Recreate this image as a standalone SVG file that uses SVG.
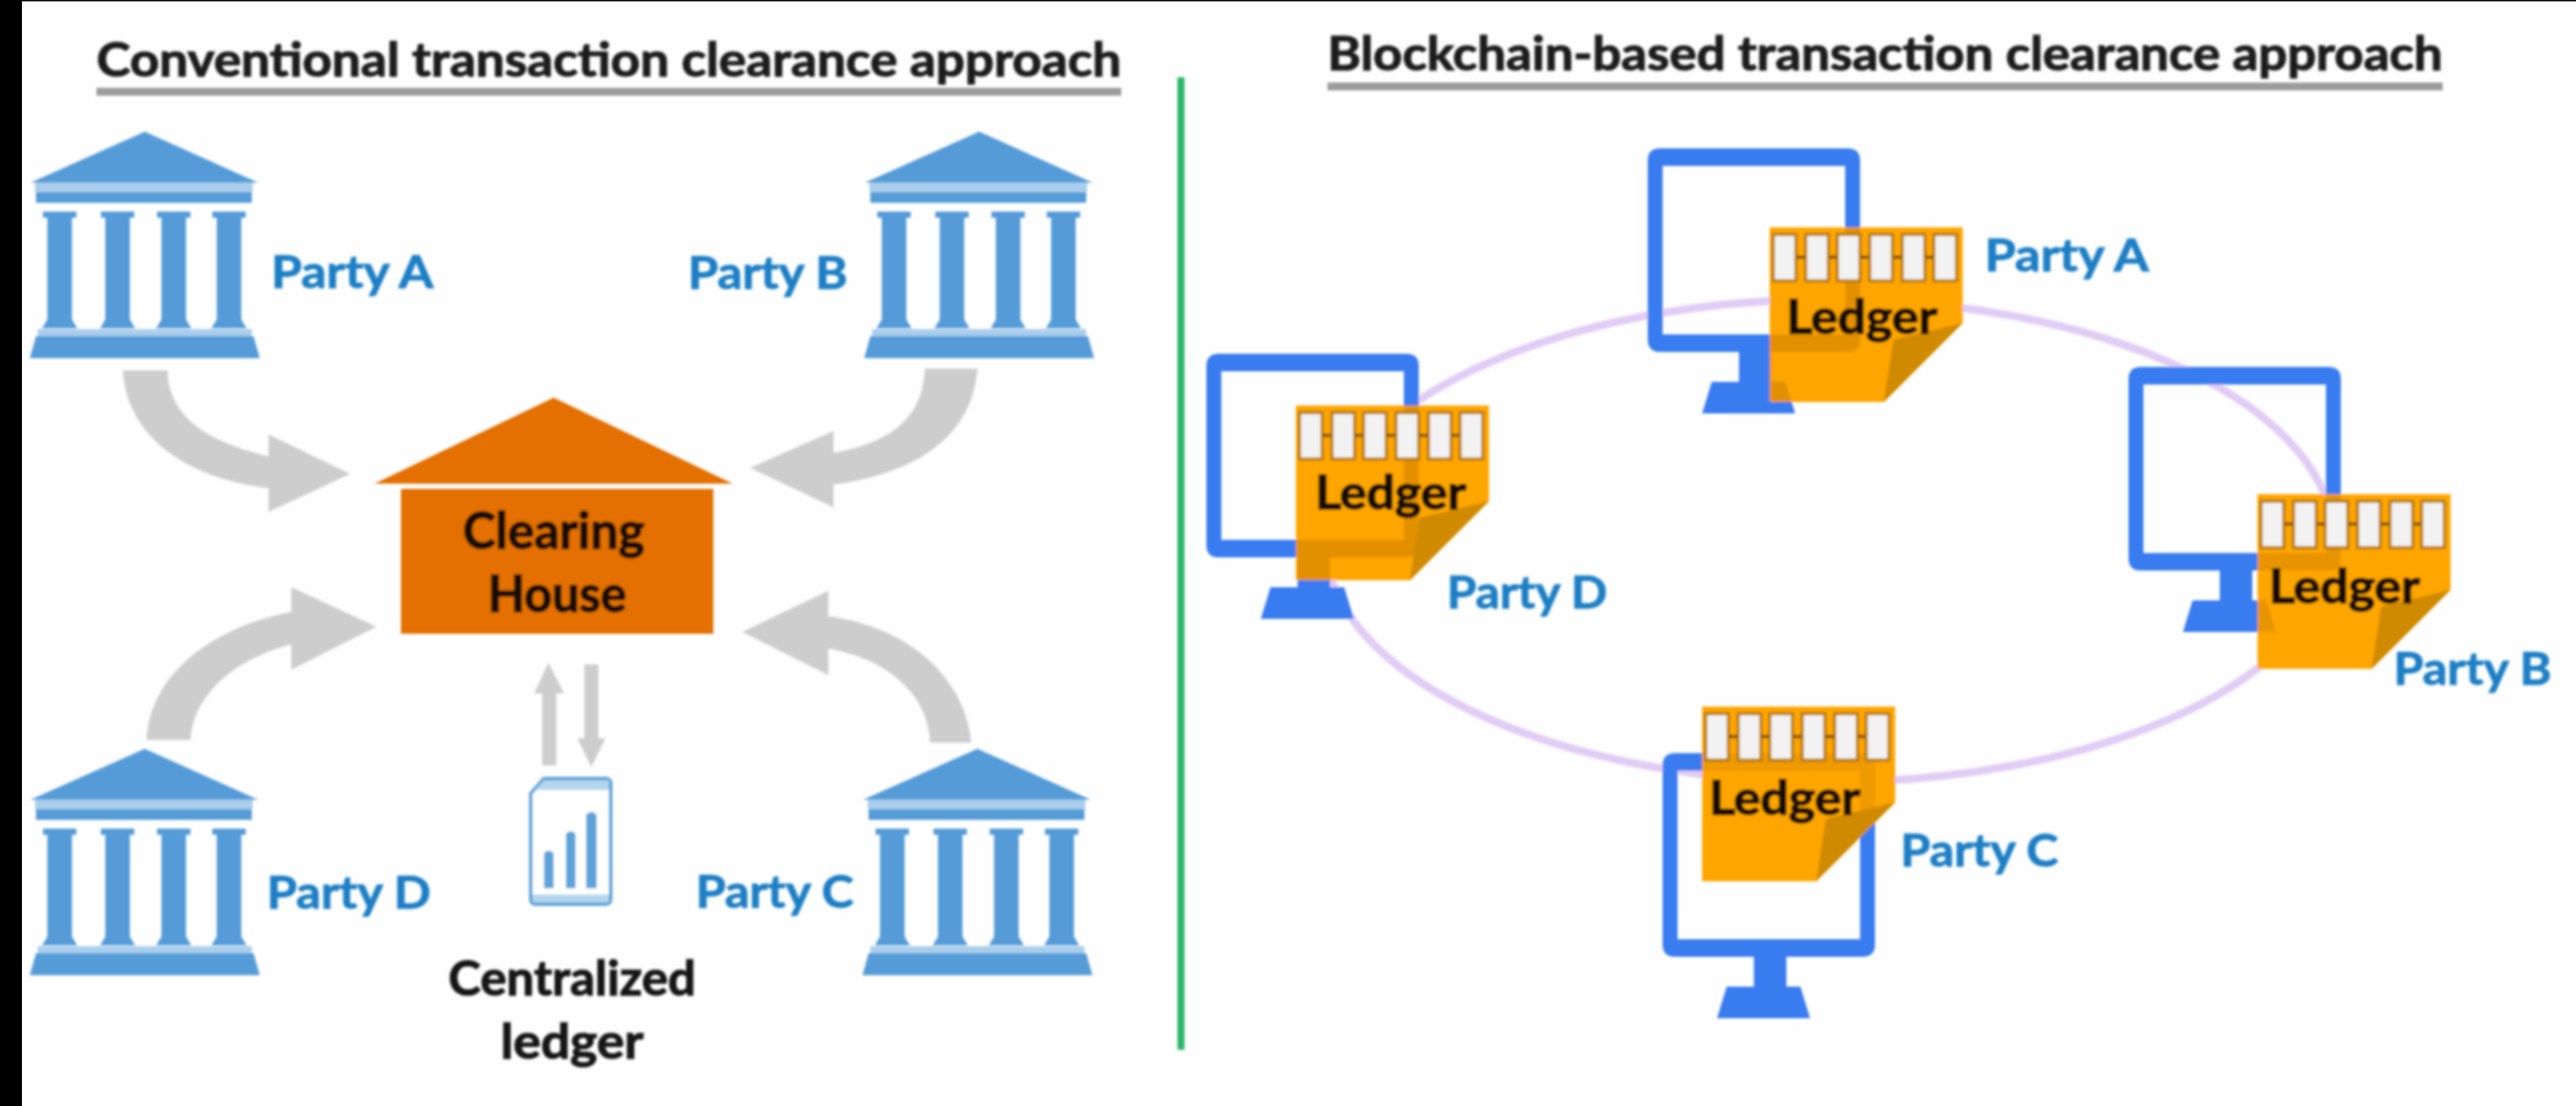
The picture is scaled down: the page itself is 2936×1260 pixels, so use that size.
<svg xmlns="http://www.w3.org/2000/svg" width="2936" height="1260" viewBox="0 0 2936 1260">
<style>
text{font-family:Lato,"Liberation Sans",Arial,sans-serif;font-weight:700}
.title{font-size:54px;fill:#1c1c1c;stroke:#1c1c1c;stroke-width:1.2px}
.party{font-size:52px;fill:#1f7fc5;stroke:#1f7fc5;stroke-width:1px}
.dark{font-size:57px;fill:#170c02;stroke:#170c02;stroke-width:1.6px}
.ink{font-size:55px;fill:#141414;stroke:#141414;stroke-width:1.2px}
.ledger{font-size:53px;fill:#170c02;stroke:#170c02;stroke-width:1.6px}
.gray{fill:#cdcdcd}
.rule{fill:#9c9c9c}
</style>
<defs>
<filter id="soft" filterUnits="userSpaceOnUse" x="0" y="0" width="2936" height="1260"><feGaussianBlur stdDeviation="1.8"/></filter>
<path id="column" d="M-19 91H19V98H14V214L20 224H-20L-14 214V98H-19Z"/>
<g id="bank">
<path fill="#559bd8" d="M0 0L129 58H-130Z"/>
<rect x="-125" y="58" width="248" height="11" fill="#a9cdeb"/>
<rect x="-124" y="69" width="246" height="12" fill="#559bd8"/>
<g fill="#559bd8">
<use href="#column" x="-97"/><use href="#column" x="-31"/><use href="#column" x="33"/><use href="#column" x="96"/>
</g>
<rect x="-122" y="225" width="244" height="8" fill="#a9cdeb"/>
<path fill="#559bd8" d="M-124 233H124L131 258H-131Z"/>
</g>
<path id="monitor" fill-rule="evenodd" d="M14 0H228Q242 0 242 14V218Q242 232 228 232H141V266H157L168 302H62L73 266H104V232H14Q0 232 0 218V14Q0 0 14 0ZM17 20V212H225V20Z"/>
<clipPath id="ledgerClip"><path d="M0 0H220V109L130 199H0Z"/></clipPath>
<path id="ledgerBody" fill="#ffa500" d="M0 0H220V109L130 199H0Z"/>
<g id="ledgerTop">
<path fill="#cf8a03" d="M220 109L141 128L130 199Z"/>
<g fill="#f2f2f2" stroke="#b87b10" stroke-width="3.5">
<rect x="4" y="8" width="26" height="53"/><rect x="41" y="8" width="26" height="53"/><rect x="77" y="8" width="26" height="53"/><rect x="114" y="8" width="26" height="53"/><rect x="151" y="8" width="26" height="53"/><rect x="187" y="8" width="26" height="53"/>
</g>
<path stroke="#5a3a00" stroke-width="3" d="M31 34H40M68 34H76M104 34H113M141 34H150M178 34H186"/>
</g>
</defs>
<rect width="2936" height="1260" fill="#fefefe"/>
<g filter="url(#soft)">
<g id="titles">
<text class="title" x="110" y="87" textLength="1168" lengthAdjust="spacingAndGlyphs">Conventional transaction clearance approach</text>
<rect class="rule" x="110" y="100" width="1168" height="9"/>
<text class="title" x="1513" y="80" textLength="1271" lengthAdjust="spacingAndGlyphs">Blockchain-based transaction clearance approach</text>
<rect class="rule" x="1513" y="94" width="1271" height="9"/>
</g>
<rect id="divider" x="1342" y="88" width="8" height="1108" fill="#2db56c"/>

<g id="connectors">
<path class="gray" d="M140 422C145 500 215 545 306 556V583L399 540L306 495V520C245 505 192 480 191 422Z"/>
<path class="gray" d="M1114 420C1108 500 1040 540 950 552V578L855 533L950 491V516C1010 505 1052 480 1054 420Z"/>
<path class="gray" d="M167 843C170 770 240 715 332 697V669L429 714L332 763V734C270 750 220 790 217 843Z"/>
<path class="gray" d="M1107 846C1100 775 1040 715 944 702V673L846 720L944 769V739C1010 750 1058 790 1060 846Z"/>
<path class="gray" d="M625 755L643 790H634V872H618V790H609Z"/>
<path class="gray" d="M674 874L690 841H682V757H666V841H658Z"/>
<ellipse cx="2085" cy="616" rx="575" ry="275" fill="none" stroke="#e0ccf4" stroke-width="9"/>
</g>

<g id="bank-party-a"><use href="#bank" transform="translate(165 150)"/><text class="party" x="309" y="328" textLength="185" lengthAdjust="spacingAndGlyphs">Party A</text></g>
<g id="bank-party-b"><use href="#bank" transform="translate(1116 150)"/><text class="party" x="784" y="329" textLength="182" lengthAdjust="spacingAndGlyphs">Party B</text></g>
<g id="bank-party-d"><use href="#bank" transform="translate(165 853)"/><text class="party" x="304" y="1035" textLength="187" lengthAdjust="spacingAndGlyphs">Party D</text></g>
<g id="bank-party-c"><use href="#bank" transform="translate(1114 853)"/><text class="party" x="793" y="1034" textLength="180" lengthAdjust="spacingAndGlyphs">Party C</text></g>

<g id="clearing-house">
<path fill="#e36f00" d="M631 453L835 551H427Z"/>
<rect x="457" y="557" width="356" height="165" fill="#e36f00"/>
<text class="dark" x="631" y="625" text-anchor="middle" textLength="207" lengthAdjust="spacingAndGlyphs">Clearing</text>
<text class="dark" x="635" y="697" text-anchor="middle" textLength="158" lengthAdjust="spacingAndGlyphs">House</text>
</g>

<g id="centralized-ledger">
<path fill="#fff" stroke="#5ba3d9" stroke-width="4" d="M620 887H690Q696 887 696 893V1024Q696 1030 690 1030H611Q605 1030 605 1024V904Z"/>
<path fill="#b5d5ef" d="M620 889H694V900H610ZM607 1019H694V1028H607Z"/>
<path fill="#5ba3d9" d="M620 1012V972Q625 966 631 972V1012ZM645 1012V950Q650 944 656 950V1012ZM668 1012V928Q674 922 680 928V1012Z"/>
<text class="ink" x="652" y="1134" text-anchor="middle" textLength="282" lengthAdjust="spacingAndGlyphs">Centralized</text>
<text class="ink" x="652" y="1206" text-anchor="middle" textLength="163" lengthAdjust="spacingAndGlyphs">ledger</text>
</g>

<g id="node-party-a">
<use href="#monitor" transform="translate(1878 169)" fill="#397bf0"/>
<g transform="translate(2017 259)">
<use href="#ledgerBody"/>
<g clip-path="url(#ledgerClip)"><use href="#monitor" transform="translate(-139 -90)" fill="#7a4a00" opacity=".22"/></g>
<use href="#ledgerTop"/>
<text class="ledger" x="105" y="121" text-anchor="middle" textLength="172" lengthAdjust="spacingAndGlyphs">Ledger</text>
</g>
<text class="party" x="2262" y="309" textLength="187" lengthAdjust="spacingAndGlyphs">Party A</text>
</g>

<g id="node-party-b">
<use href="#monitor" transform="translate(2426 418)" fill="#397bf0"/>
<g transform="translate(2573 563)">
<use href="#ledgerBody"/>
<g clip-path="url(#ledgerClip)"><use href="#monitor" transform="translate(-147 -145)" fill="#7a4a00" opacity=".18"/></g>
<use href="#ledgerTop"/>
<text class="ledger" x="99" y="124" text-anchor="middle" textLength="172" lengthAdjust="spacingAndGlyphs">Ledger</text>
</g>
<text class="party" x="2728" y="780" textLength="180" lengthAdjust="spacingAndGlyphs">Party B</text>
</g>

<g id="node-party-c">
<use href="#monitor" transform="translate(1895 858)" fill="#397bf0"/>
<g transform="translate(1940 805)">
<use href="#ledgerBody"/>
<g clip-path="url(#ledgerClip)"><use href="#monitor" transform="translate(-45 53)" fill="#7a4a00" opacity=".12"/></g>
<use href="#ledgerTop"/>
<text class="ledger" x="94" y="123" text-anchor="middle" textLength="172" lengthAdjust="spacingAndGlyphs">Ledger</text>
</g>
<text class="party" x="2166" y="987" textLength="180" lengthAdjust="spacingAndGlyphs">Party C</text>
</g>

<g id="node-party-d">
<use href="#monitor" transform="translate(1375 403)" fill="#397bf0"/>
<g transform="translate(1477 462)">
<use href="#ledgerBody"/>
<g clip-path="url(#ledgerClip)"><use href="#monitor" transform="translate(-102 -59)" fill="#7a4a00" opacity=".22"/></g>
<use href="#ledgerTop"/>
<text class="ledger" x="108" y="118" text-anchor="middle" textLength="172" lengthAdjust="spacingAndGlyphs">Ledger</text>
</g>
<text class="party" x="1649" y="693" textLength="183" lengthAdjust="spacingAndGlyphs">Party D</text>
</g>
</g>
<rect id="left-edge" x="0" y="0" width="25" height="1260" fill="#000"/>
<rect id="top-edge" x="0" y="0" width="2936" height="1.5" fill="#000"/>
</svg>
